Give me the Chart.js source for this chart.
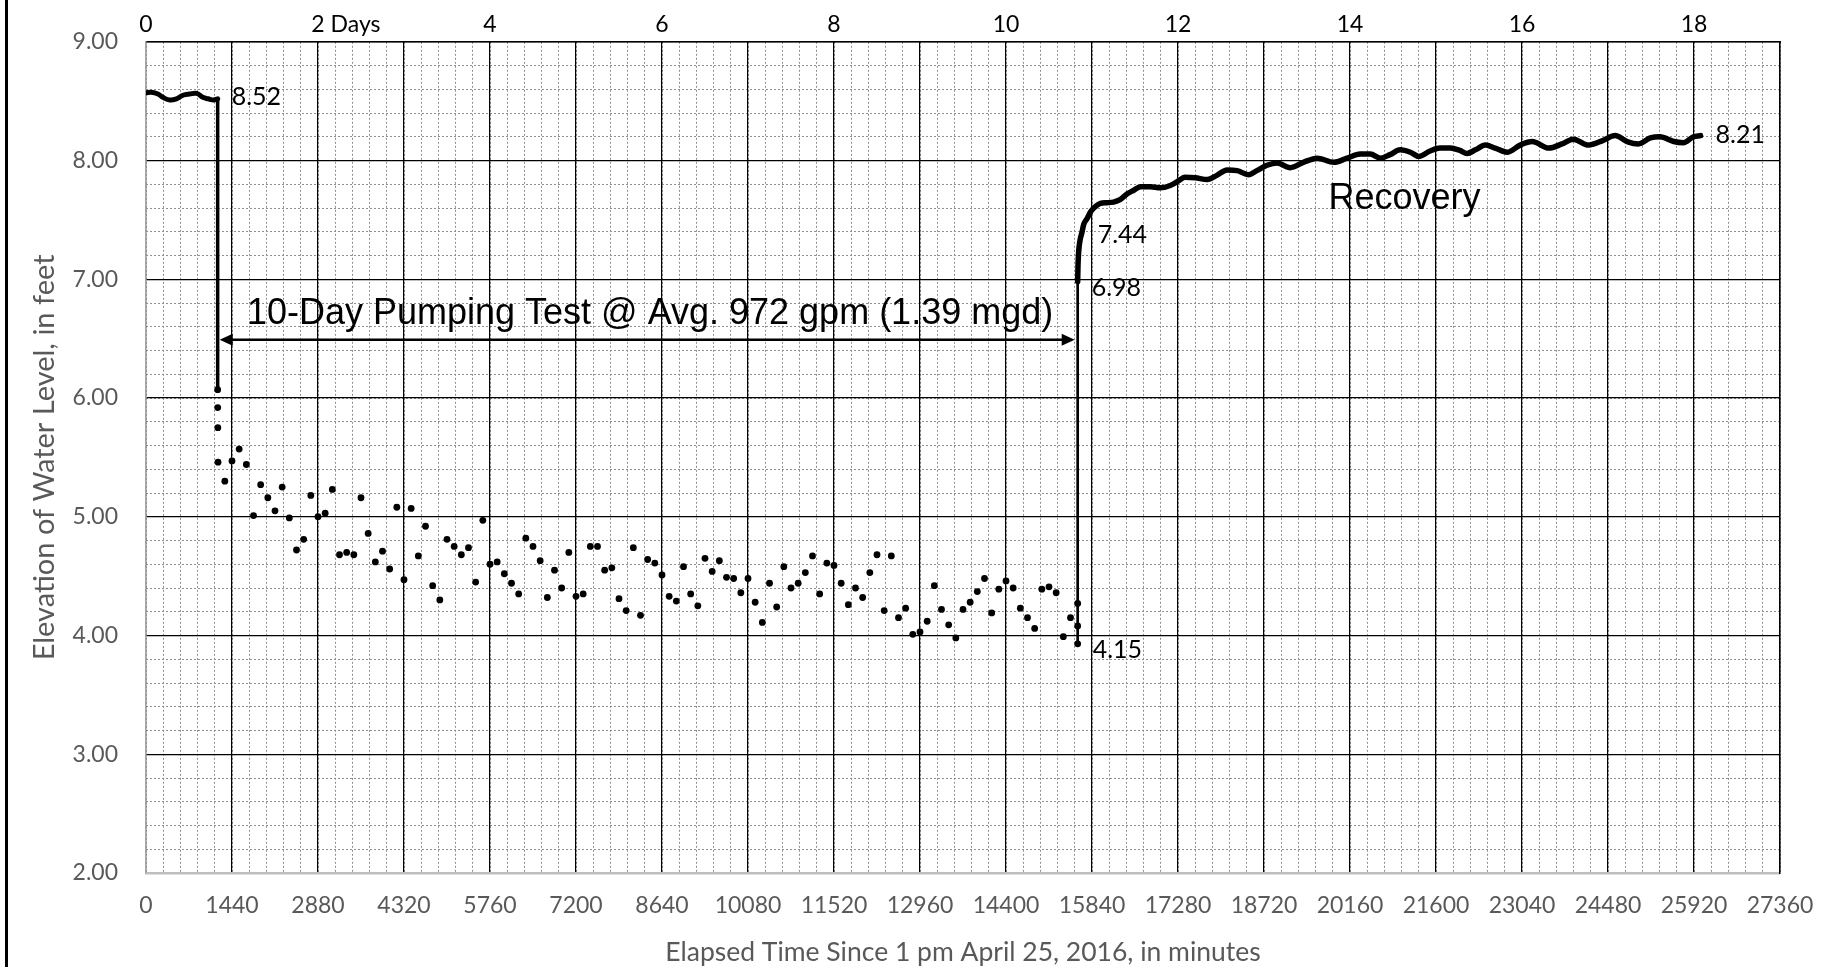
<!DOCTYPE html>
<html>
<head>
<meta charset="utf-8">
<script src="https://cdn.jsdelivr.net/npm/chart.js@4.4.1/dist/chart.umd.min.js"></script>
<style>
  html, body { margin: 0; padding: 0; background: #fff; }
  #wrap { position: relative; width: 1837px; height: 967px; }
  #chart { position: absolute; left: 0; top: 0; }
  #frame { position: absolute; left: 5px; top: 0; width: 3px; height: 967px; background: #000; }
</style>
</head>
<body>
<div id="wrap">
  <canvas id="chart" width="1837" height="967"></canvas>
  <div id="frame"></div>
</div>
<script>
/* ── Data: minutes since 1 pm April 25, 2016 / water level (ft) ─────────── */
const pumpStart = 1200;
const pumpEnd   = 15600;

const prePumpTime  = [0, 90, 200, 290, 400, 510, 620, 730, 850, 960, 1040, 1130, 1200];
const prePumpLevel = [8.57, 8.575, 8.56, 8.53, 8.51, 8.52, 8.55, 8.56, 8.565, 8.53, 8.52, 8.51, 8.52];

const dropLevel = [8.52, 6.07];

const pumpTime = [
  1200, 1201, 1203, 1206,
  1320, 1440, 1560, 1680, 1800, 1920, 2040, 2160, 2280, 2400,
  2520, 2640, 2760, 2880, 3000, 3120, 3240, 3360, 3480, 3600,
  3720, 3840, 3960, 4080, 4200, 4320, 4440, 4560, 4680, 4800,
  4920, 5040, 5160, 5280, 5400, 5520, 5640, 5760, 5880, 6000,
  6120, 6240, 6360, 6480, 6600, 6720, 6840, 6960, 7080, 7200,
  7320, 7440, 7560, 7680, 7800, 7920, 8040, 8160, 8280, 8400,
  8520, 8640, 8760, 8880, 9000, 9120, 9240, 9360, 9480, 9600,
  9720, 9840, 9960, 10080, 10200, 10320, 10440, 10560, 10680, 10800,
  10920, 11040, 11160, 11280, 11400, 11520, 11640, 11760, 11880, 12000,
  12120, 12240, 12360, 12480, 12600, 12720, 12840, 12960, 13080, 13200,
  13320, 13440, 13560, 13680, 13800, 13920, 14040, 14160, 14280, 14400,
  14520, 14640, 14760, 14880, 15000, 15120, 15240, 15360, 15480,
  15600, 15600, 15600
];
const pumpLevel = [
  6.07, 5.92, 5.75, 5.46,
  5.30, 5.47, 5.57, 5.44, 5.01, 5.27, 5.16, 5.05, 5.25, 4.99,
  4.72, 4.81, 5.18, 5.00, 5.03, 5.23, 4.68, 4.70, 4.68, 5.16,
  4.86, 4.62, 4.71, 4.56, 5.08, 4.47, 5.07, 4.67, 4.92, 4.42,
  4.30, 4.81, 4.75, 4.68, 4.74, 4.45, 4.97, 4.60, 4.62, 4.52,
  4.44, 4.35, 4.82, 4.75, 4.63, 4.32, 4.55, 4.40, 4.70, 4.33,
  4.35, 4.75, 4.75, 4.55, 4.57, 4.31, 4.21, 4.74, 4.17, 4.64,
  4.61, 4.51, 4.33, 4.29, 4.58, 4.35, 4.25, 4.65, 4.54, 4.63,
  4.49, 4.48, 4.36, 4.48, 4.28, 4.11, 4.44, 4.24, 4.58, 4.40,
  4.44, 4.53, 4.67, 4.35, 4.61, 4.59, 4.44, 4.26, 4.40, 4.32,
  4.53, 4.68, 4.21, 4.67, 4.15, 4.23, 4.01, 4.03, 4.12, 4.42,
  4.22, 4.09, 3.98, 4.22, 4.28, 4.37, 4.48, 4.19, 4.39, 4.46,
  4.40, 4.23, 4.15, 4.06, 4.39, 4.41, 4.36, 3.99, 4.15,
  4.27, 4.08, 3.93
];

const riseLevel = [3.93, 6.98];

const recoveryTime = [
  15600, 15605, 15615, 15640, 15670, 15700, 15756, 15820, 15870, 15980,
  16090, 16200, 16310, 16430, 16540, 16650, 16820, 16980, 17150, 17260,
  17400, 17570, 17770, 17930, 18100, 18270, 18460, 18600, 18770, 18940,
  19160, 19380, 19610, 19890, 20110, 20330, 20500, 20670, 20830, 21000,
  21170, 21310, 21500, 21670, 21840, 22000, 22120, 22260, 22430, 22590,
  22790, 23010, 23210, 23490, 23710, 23900, 24150, 24400, 24600, 24800,
  24990, 25190, 25350, 25580, 25740, 25910, 26030
];
const recoveryLevel = [
  6.98, 7.10, 7.22, 7.33, 7.39, 7.46, 7.51, 7.57, 7.60, 7.64,
  7.645, 7.65, 7.67, 7.72, 7.75, 7.78, 7.78, 7.77, 7.79, 7.82,
  7.86, 7.855, 7.84, 7.875, 7.92, 7.915, 7.88, 7.915, 7.96, 7.98,
  7.94, 7.985, 8.02, 7.985, 8.02, 8.055, 8.055, 8.02, 8.05, 8.09,
  8.07, 8.035, 8.08, 8.105, 8.105, 8.085, 8.06, 8.09, 8.13, 8.105,
  8.07, 8.13, 8.16, 8.105, 8.14, 8.18, 8.13, 8.17, 8.21, 8.16,
  8.14, 8.19, 8.20, 8.16, 8.15, 8.20, 8.21
];

// labelled points
const labelTime  = [1200, 15600, 15600, 15600, 26030];
const labelLevel = [8.52, 6.98, 7.44, 3.93, 8.21];
const labelText  = ['8.52', '6.98', '7.44', '4.15', '8.21'];

// axes
const timeMax   = 27360;
const timeStep  = 1440;
const levelMin  = 2;
const levelMax  = 9;
const daysMax   = 19;

/* ── Helpers ───────────────────────────────────────────────────────────── */
const pts = (xs, ys) => xs.map((x, i) => ({ x, y: ys[i] }));
const GRAY = '#595959';
const LABEL_OFF = [[14, -2], [14, 6], [20, 8], [15, 6], [15, -1]];

const annotations = {
  id: 'annotations',
  afterDraw(chart) {
    const { ctx, scales: { x, y, xTop } } = chart;
    ctx.save();

    // data labels
    ctx.font = '25px Lato';
    ctx.fillStyle = '#000';
    ctx.textAlign = 'left';
    ctx.textBaseline = 'middle';
    labelTime.forEach((t, i) => {
      ctx.fillText(labelText[i], x.getPixelForValue(t) + LABEL_OFF[i][0], y.getPixelForValue(labelLevel[i]) + LABEL_OFF[i][1]);
    });

    // double arrow spanning the pumping period
    const ay = y.getPixelForValue(6.49);
    const a1 = x.getPixelForValue(pumpStart) + 2;
    const a2 = x.getPixelForValue(pumpEnd) - 3;
    ctx.strokeStyle = '#000';
    ctx.lineWidth = 2.5;
    ctx.beginPath(); ctx.moveTo(a1 + 8, ay); ctx.lineTo(a2 - 8, ay); ctx.stroke();
    [[a1, 1], [a2, -1]].forEach(([tip, dir]) => {
      ctx.beginPath();
      ctx.moveTo(tip, ay);
      ctx.lineTo(tip + dir * 13, ay - 6);
      ctx.lineTo(tip + dir * 13, ay + 6);
      ctx.closePath();
      ctx.fill();
    });

    // notes
    ctx.font = '36px "Liberation Sans", Arial, sans-serif';
    ctx.textBaseline = 'alphabetic';
    ctx.fillText('10-Day Pumping Test @ Avg. 972 gpm (1.39 mgd)', x.getPixelForValue(1690), y.getPixelForValue(6.626));
    ctx.fillText('Recovery', x.getPixelForValue(19800), y.getPixelForValue(7.593));

    // "Days" after the 2 on the top axis
    ctx.font = '23px Lato';
    ctx.textBaseline = 'middle';
    const dx = xTop.getPixelForValue(2) + ctx.measureText('2').width / 2;
    ctx.fillText(' Days', dx, xTop.bottom - 3 - 23 * 1.2 / 2);

    ctx.restore();
  }
};

/* ── Chart ─────────────────────────────────────────────────────────────── */
Chart.defaults.font.family = 'Lato';

const lineStyle = { borderColor: '#000', backgroundColor: '#000', pointRadius: 0, showLine: true,
  borderCapStyle: 'round', borderJoinStyle: 'round', xAxisID: 'x', yAxisID: 'y' };

new Chart(document.getElementById('chart'), {
  type: 'scatter',
  data: {
    datasets: [
      { ...lineStyle, label: 'Before pumping', data: pts(prePumpTime, prePumpLevel), borderWidth: 5, tension: 0.4 },
      { ...lineStyle, label: 'Drawdown', data: pts([pumpStart, pumpStart], dropLevel), borderWidth: 3.5 },
      { ...lineStyle, label: 'Rise', data: pts([pumpEnd, pumpEnd], riseLevel), borderWidth: 2.7 },
      { ...lineStyle, label: 'Recovery', data: pts(recoveryTime, recoveryLevel), borderWidth: 5.5, cubicInterpolationMode: 'monotone' },
      { label: 'Pumping', data: pts(pumpTime, pumpLevel), showLine: false, pointRadius: 3.4, pointBorderWidth: 0,
        pointBackgroundColor: '#000', xAxisID: 'x', yAxisID: 'y' }
    ]
  },
  options: {
    responsive: false,
    animation: false,
    layout: { padding: { left: 0, right: 57, top: 0, bottom: 0 } },
    plugins: { legend: { display: false }, tooltip: { enabled: false } },
    scales: {
      x: {
        type: 'linear', position: 'bottom', min: 0, max: timeMax,
        ticks: { stepSize: timeStep, autoSkip: false, maxRotation: 0, padding: 19, color: GRAY,
          font: { size: 23 }, callback: v => String(v) },
        grid: { color: '#000', lineWidth: 1.2, drawTicks: false },
        border: { color: '#bfbfbf', width: 2.5 },
        title: { display: true, text: 'Elapsed Time Since 1 pm April 25, 2016, in minutes', color: GRAY,
          font: { size: 26.5 }, padding: { top: 0, bottom: -1 } },
        afterFit: s => { s.height = 94; }
      },
      xMinor: {
        type: 'linear', axis: 'x', position: 'bottom', min: 0, max: timeMax,
        ticks: { display: false, stepSize: 288 },
        grid: { color: '#8f8f8f', lineWidth: 1, drawTicks: false, z: -2 },
        border: { display: false, dash: [2, 2] },
        afterFit: s => { s.height = 0; }
      },
      xTop: {
        type: 'linear', axis: 'x', position: 'top', min: 0, max: daysMax,
        ticks: { stepSize: 2, includeBounds: false, autoSkip: false, maxRotation: 0, padding: 3, color: '#000',
          font: { size: 23 }, callback: v => String(v) },
        grid: { display: false, drawTicks: false },
        border: { color: '#000', width: 1.5 },
        afterFit: s => { s.height = 37; }
      },
      y: {
        type: 'linear', position: 'left', min: levelMin, max: levelMax,
        ticks: { stepSize: 1, padding: 28, color: GRAY, font: { size: 23 }, callback: v => v.toFixed(2) },
        grid: { color: '#000', lineWidth: 1.2, drawTicks: false },
        border: { color: '#a6a6a6', width: 1.5 },
        title: { display: true, text: 'Elevation of Water Level, in feet', color: GRAY,
          font: { size: 29 }, padding: { top: 27, bottom: 0 } },
        afterFit: s => { s.width = 146; }
      },
      yMinor: {
        type: 'linear', axis: 'y', position: 'left', min: levelMin, max: levelMax,
        ticks: { display: false, stepSize: 0.2 },
        grid: { color: '#8f8f8f', lineWidth: 1, drawTicks: false, z: -2 },
        border: { display: false, dash: [2, 2] },
        afterFit: s => { s.width = 0; }
      },
      yRight: {
        type: 'linear', axis: 'y', position: 'right', min: levelMin, max: levelMax,
        ticks: { display: false },
        grid: { display: false, drawTicks: false },
        border: { color: '#000', width: 1.5 },
        afterFit: s => { s.width = 0; }
      }
    }
  },
  plugins: [annotations]
});
</script>
</body>
</html>
